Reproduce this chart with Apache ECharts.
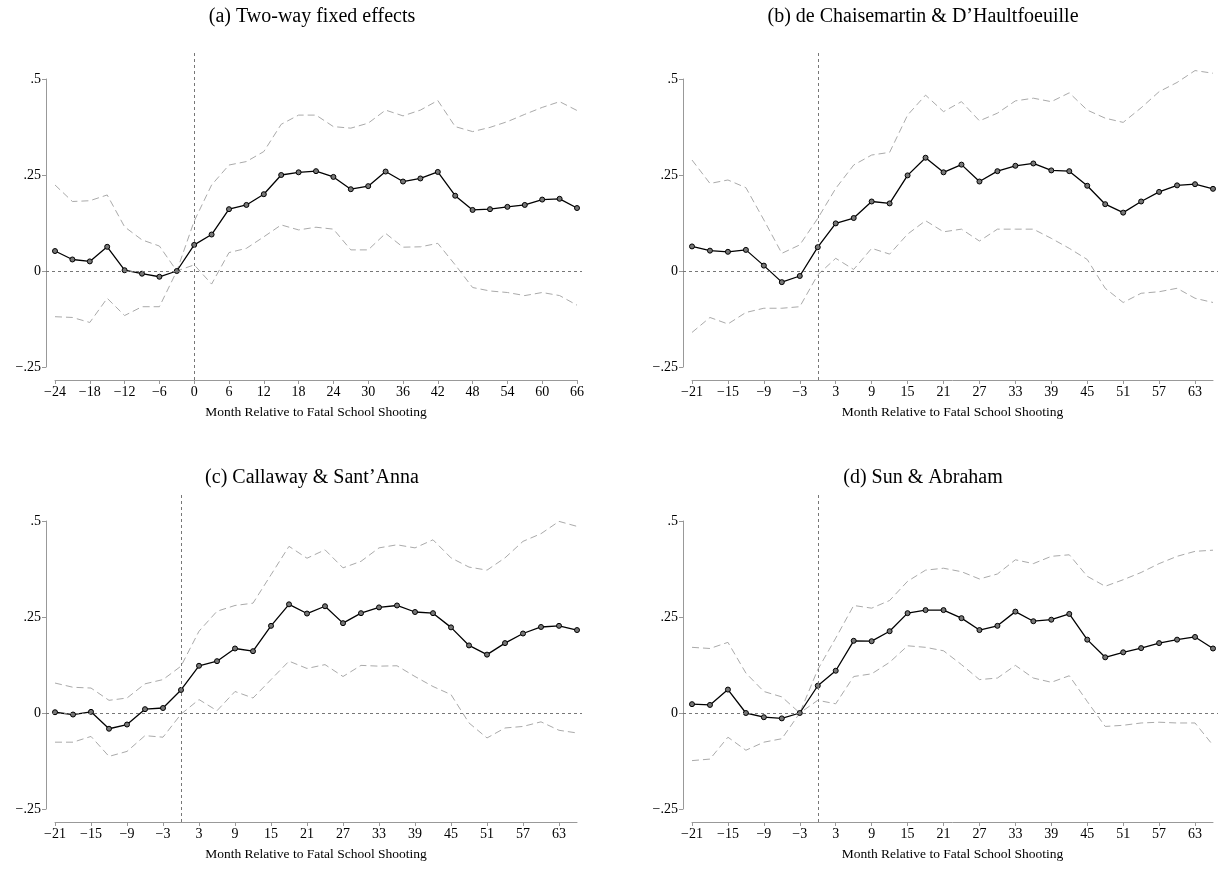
<!DOCTYPE html>
<html>
<head>
<meta charset="utf-8">
<script src="https://cdn.jsdelivr.net/npm/echarts@6/dist/echarts.min.js"></script>
<style>
html,body{margin:0;padding:0;background:#fff;}
#chart{width:1224px;height:869px;}
</style>
</head>
<body>
<div id="chart"></div>
<script>
// ---------------- DATA ----------------
const monthsA = [-24,-21,-18,-15,-12,-9,-6,-3,0,3,6,9,12,15,18,21,24,27,30,33,36,39,42,45,48,51,54,57,60,63,66];
const monthsB = [-21,-18,-15,-12,-9,-6,-3,0,3,6,9,12,15,18,21,24,27,30,33,36,39,42,45,48,51,54,57,60,63,66];

const twfeEst = [0.052,0.030,0.025,0.063,0.002,-0.007,-0.015,0.000,0.068,0.095,0.161,0.172,0.200,0.250,0.257,0.260,0.245,0.213,0.221,0.259,0.233,0.241,0.258,0.196,0.159,0.161,0.167,0.172,0.186,0.188,0.164];
const twfeHi  = [0.224,0.181,0.183,0.198,0.115,0.081,0.065,0.000,0.130,0.224,0.276,0.285,0.311,0.382,0.406,0.406,0.376,0.372,0.385,0.419,0.404,0.419,0.444,0.376,0.363,0.374,0.389,0.408,0.426,0.441,0.418];
const twfeLo  = [-0.119,-0.121,-0.134,-0.071,-0.116,-0.093,-0.093,0.000,0.016,-0.034,0.048,0.059,0.089,0.120,0.107,0.114,0.109,0.055,0.055,0.098,0.062,0.063,0.072,0.016,-0.043,-0.052,-0.056,-0.064,-0.056,-0.064,-0.089];

const dcdhEst = [0.064,0.053,0.050,0.055,0.014,-0.029,-0.013,0.062,0.124,0.138,0.181,0.176,0.249,0.295,0.257,0.277,0.233,0.260,0.274,0.280,0.262,0.260,0.222,0.174,0.152,0.181,0.206,0.223,0.226,0.214];
const dcdhHi  = [0.289,0.228,0.237,0.217,0.133,0.046,0.068,0.137,0.215,0.276,0.302,0.309,0.406,0.458,0.415,0.441,0.391,0.411,0.443,0.450,0.441,0.464,0.419,0.398,0.387,0.425,0.467,0.491,0.522,0.515];
const dcdhLo  = [-0.160,-0.121,-0.138,-0.108,-0.097,-0.097,-0.093,-0.010,0.033,0.004,0.059,0.044,0.096,0.131,0.102,0.109,0.078,0.109,0.109,0.109,0.085,0.059,0.030,-0.045,-0.082,-0.058,-0.054,-0.045,-0.071,-0.082];

const csEst = [0.002,-0.004,0.003,-0.041,-0.030,0.010,0.013,0.060,0.123,0.135,0.168,0.161,0.227,0.283,0.259,0.278,0.234,0.260,0.275,0.280,0.263,0.260,0.223,0.176,0.152,0.182,0.207,0.224,0.227,0.216];
const csHi  = [0.078,0.067,0.065,0.033,0.039,0.076,0.087,0.122,0.213,0.265,0.280,0.286,0.360,0.434,0.403,0.425,0.378,0.395,0.430,0.438,0.430,0.451,0.404,0.380,0.372,0.404,0.447,0.467,0.499,0.486];
const csLo  = [-0.076,-0.076,-0.061,-0.113,-0.100,-0.059,-0.063,-0.003,0.035,0.006,0.056,0.039,0.087,0.135,0.116,0.126,0.095,0.124,0.122,0.123,0.095,0.069,0.048,-0.026,-0.065,-0.039,-0.035,-0.023,-0.045,-0.052];

const saEst = [0.023,0.021,0.061,0.000,-0.011,-0.014,0.000,0.071,0.110,0.188,0.187,0.213,0.260,0.268,0.268,0.247,0.216,0.227,0.264,0.239,0.243,0.258,0.191,0.145,0.158,0.169,0.182,0.191,0.198,0.168];
const saHi  = [0.171,0.168,0.184,0.104,0.056,0.042,0.000,0.113,0.195,0.280,0.273,0.293,0.343,0.372,0.377,0.368,0.349,0.362,0.399,0.389,0.408,0.412,0.356,0.330,0.347,0.366,0.389,0.408,0.421,0.424];
const saLo  = [-0.124,-0.120,-0.063,-0.097,-0.076,-0.067,0.000,0.033,0.024,0.095,0.102,0.132,0.175,0.171,0.162,0.126,0.087,0.091,0.124,0.091,0.080,0.097,0.030,-0.035,-0.032,-0.026,-0.024,-0.026,-0.026,-0.084];

const xTicksA = [-24,-18,-12,-6,0,6,12,18,24,30,36,42,48,54,60,66];
const xTicksB = [-21,-15,-9,-3,3,9,15,21,27,33,39,45,51,57,63];
const yTicks = [-0.25,0,0.25,0.5];
const eventMonth = 0;
const titles = ['(a) Two-way fixed effects','(b) de Chaisemartin & D\u2019Haultfoeuille','(c) Callaway & Sant\u2019Anna','(d) Sun & Abraham'];
const xTitle = 'Month Relative to Fatal School Shooting';

// ---------------- LAYOUT ----------------
const panels = [
  {x0:55,  x1:577,  top:79,  tTop:2,   months:monthsA, ticks:xTicksA, est:twfeEst, hi:twfeHi, lo:twfeLo, cx:307},
  {x0:692, x1:1213, top:79,  tTop:2,   months:monthsB, ticks:xTicksB, est:dcdhEst, hi:dcdhHi, lo:dcdhLo, cx:918},
  {x0:55,  x1:577,  top:521, tTop:463, months:monthsB, ticks:xTicksB, est:csEst, hi:csHi, lo:csLo, cx:307},
  {x0:692, x1:1213, top:521, tTop:463, months:monthsB, ticks:xTicksB, est:saEst, hi:saHi, lo:saLo, cx:918}
];
const plotH = 288, yMin = -0.25, yMax = 0.5;
const yOff = 9, xOff = 13, topPad = 28, rightPad = 5;
const font = 'Liberation Serif';
const fmtNum = v => {
  if (v === 0) return '0';
  let s = String(Math.abs(v)).replace(/^0/, '');
  return (v < 0 ? '\u2212' : '') + s;
};

const grid = [], xAxis = [], yAxis = [], series = [], title = [];
panels.forEach((p, i) => {
  const xmin = p.months[0], xmax = p.months[p.months.length - 1];
  const ppm = (p.x1 - p.x0) / (xmax - xmin);
  const ppu = plotH / (yMax - yMin);
  grid.push({left: p.x0, width: p.x1 - p.x0, top: p.top, height: plotH});
  grid.push({left: p.x0 - yOff, width: p.x1 - p.x0 + yOff + rightPad, top: p.top - topPad, height: plotH + topPad + xOff});
  xAxis.push({
    gridIndex: 2 * i, type: 'value', min: xmin, max: xmax, offset: xOff,
    axisLine: {show: true, onZero: false, lineStyle: {color: '#999', width: 1}},
    axisTick: {show: true, length: 4, lineStyle: {color: '#999'}, customValues: p.ticks},
    axisLabel: {customValues: p.ticks, formatter: fmtNum, fontFamily: font, fontSize: 14, color: '#000', margin: 5},
    splitLine: {show: false},
    name: xTitle, nameLocation: 'middle', nameGap: 25,
    nameTextStyle: {fontFamily: font, fontSize: 13.5, color: '#000'}
  });
  yAxis.push({
    gridIndex: 2 * i, type: 'value', min: yMin, max: yMax, offset: yOff,
    axisLine: {show: true, onZero: false, lineStyle: {color: '#999', width: 1}},
    axisTick: {show: true, length: 4, lineStyle: {color: '#999'}, customValues: yTicks},
    axisLabel: {customValues: yTicks, formatter: fmtNum, fontFamily: font, fontSize: 14, color: '#000', margin: 5},
    splitLine: {show: false}
  });
  xAxis.push({
    gridIndex: 2 * i + 1, type: 'value', show: false,
    min: xmin - yOff / ppm, max: xmax + rightPad / ppm
  });
  yAxis.push({
    gridIndex: 2 * i + 1, type: 'value', show: false,
    min: yMin - xOff / ppu, max: yMax + topPad / ppu
  });
  const xi = 2 * i, xo = 2 * i + 1;
  series.push({
    type: 'line', xAxisIndex: xo, yAxisIndex: xo, data: [], silent: true,
    markLine: {
      silent: true, symbol: 'none', label: {show: false},
      lineStyle: {color: '#777', type: [3, 3], width: 1},
      data: [{xAxis: eventMonth}, {yAxis: 0}]
    }
  });
  const mk = arr => p.months.map((m, k) => [m, arr[k]]);
  ['hi', 'lo'].forEach(key => series.push({
    type: 'line', xAxisIndex: xi, yAxisIndex: xi, data: mk(p[key]), showSymbol: false, symbol: 'none',
    clip: false, lineStyle: {color: '#aaa', width: 1, type: [7, 4]}, silent: true, z: 2
  }));
  series.push({
    type: 'line', xAxisIndex: xi, yAxisIndex: xi, data: mk(p.est), symbol: 'circle', symbolSize: 5,
    showSymbol: true, clip: false,
    lineStyle: {color: '#000', width: 1.3},
    itemStyle: {color: '#777', borderColor: '#000', borderWidth: 1}, silent: true, z: 3
  });
  title.push({
    text: titles[i], left: p.cx, top: p.tTop, textAlign: 'center',
    textStyle: {fontFamily: font, fontSize: 20, fontWeight: 'normal', color: '#000'}
  });
});

const chart = echarts.init(document.getElementById('chart'), null, {renderer: 'canvas'});
chart.setOption({animation: false, backgroundColor: '#fff', title, grid, xAxis, yAxis, series});
</script>
</body>
</html>
